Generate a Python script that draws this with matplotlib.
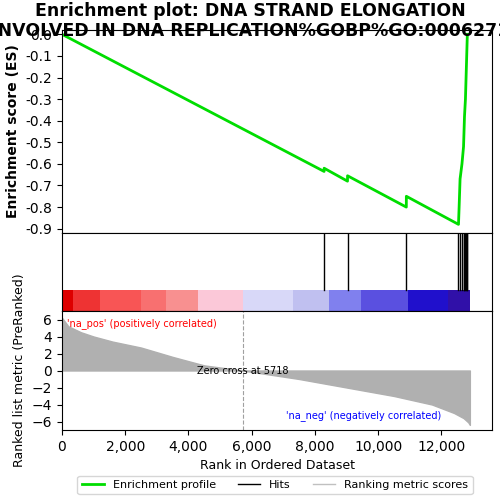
import matplotlib
matplotlib.use("Agg")
import matplotlib.pyplot as plt
import numpy as np
from matplotlib.lines import Line2D

es_rank = [0, 8290, 8291, 9030, 9031, 10890, 10891, 12540, 12560, 12590, 12650, 12700, 12730, 12760, 12780, 12800, 12820]
es_val = [0.0, -0.635, -0.62, -0.68, -0.655, -0.80, -0.75, -0.88, -0.80, -0.67, -0.60, -0.52, -0.38, -0.30, -0.20, -0.10, 0.0]
hits = [8290, 9030, 10890, 12540, 12590, 12650, 12700, 12730, 12760, 12780, 12800, 12820]

metric_rank = [0, 200, 600, 1000, 1600, 2500, 3500, 4500, 5718, 7500, 9000, 10500, 11700, 12400, 12700, 12850, 12900]
metric_val = [6.2, 5.2, 4.5, 4.0, 3.4, 2.7, 1.6, 0.6, 0.0, -1.0, -2.0, -3.0, -4.0, -5.0, -5.6, -6.1, -6.4]

band_edges = [0, 350, 1200, 2500, 3300, 4300, 5718, 7300, 8450, 9450, 10950, 12200, 12900]
band_colors = ["#dd0000", "#ee3333", "#f85555", "#f87070", "#f89090", "#fbc8d8",
               "#d8d8f8", "#c0c0f0", "#8080ee", "#5a50e0", "#2010cc", "#3010a8"]

XMAX = 13600
fig = plt.figure(figsize=(5, 5), dpi=100)
ax1 = fig.add_axes([0.124, 0.534, 0.86, 0.406])
ax2 = fig.add_axes([0.124, 0.378, 0.86, 0.156])
ax3 = fig.add_axes([0.124, 0.14, 0.86, 0.238])

fig.text(0.5, 0.995, "Enrichment plot: DNA STRAND ELONGATION\nINVOLVED IN DNA REPLICATION%GOBP%GO:0006271",
         ha="center", va="top", fontsize=12.5, fontweight="bold", linespacing=1.1)

ax1.plot(es_rank, es_val, color="#00dd00", lw=2)
ax1.set_xlim(0, XMAX)
ax1.set_ylim(-0.92, 0.02)
yt = np.round(np.arange(-0.9, 0.01, 0.1), 1)
ax1.set_yticks(yt)
ax1.set_yticklabels([f"{abs(v):.1f}" if v == 0 else f"{v:.1f}" for v in yt])
ax1.set_xticks([])
ax1.set_ylabel("Enrichment score (ES)", fontsize=10, fontweight="bold")

for h in hits:
    ax2.axvline(h, ymin=0.27, ymax=1, color="black", lw=1)
for i, c in enumerate(band_colors):
    ax2.axvspan(band_edges[i], band_edges[i + 1], ymin=0, ymax=0.27, color=c, lw=0)
ax2.set_xlim(0, XMAX)
ax2.set_ylim(0, 1)
ax2.set_xticks([])
ax2.set_yticks([])

ax3.fill_between(metric_rank, metric_val, 0, color="#b0b0b0")
ax3.axvline(5718, color="#a0a0a0", ls="--", lw=0.8)
ax3.text(5718, -0.1, "Zero cross at 5718", ha="center", va="center", fontsize=7)
ax3.text(150, 5.5, "'na_pos' (positively correlated)", color="red", fontsize=7, va="center")
ax3.text(12000, -5.3, "'na_neg' (negatively correlated)", color="blue", fontsize=7, ha="right", va="center")
ax3.set_xlim(0, XMAX)
ax3.set_ylim(-7, 7)
ax3.set_yticks([-6, -4, -2, 0, 2, 4, 6])
ax3.set_xticks([0, 2000, 4000, 6000, 8000, 10000, 12000])
ax3.set_xticklabels(["0", "2,000", "4,000", "6,000", "8,000", "10,000", "12,000"])
ax3.set_xlabel("Rank in Ordered Dataset", fontsize=9)
ax3.set_ylabel("Ranked list metric (PreRanked)", fontsize=9)

handles = [Line2D([], [], color="#00dd00", lw=2), Line2D([], [], color="black", lw=1),
           Line2D([], [], color="#c0c0c0", lw=1)]
fig.legend(handles, ["Enrichment profile", "Hits", "Ranking metric scores"],
           loc="lower center", bbox_to_anchor=(0.55, 0.0), ncol=3, fontsize=8, frameon=True)

fig.savefig("out.png")
